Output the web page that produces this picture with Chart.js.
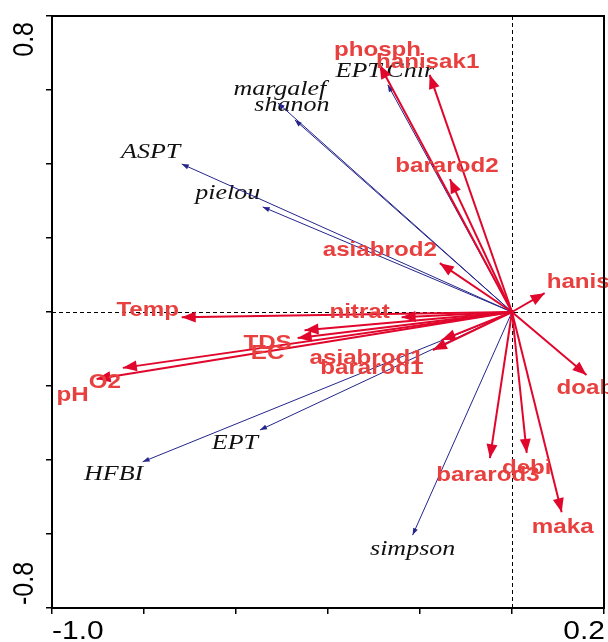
<!DOCTYPE html>
<html><head><meta charset="utf-8">
<script src="https://cdn.jsdelivr.net/npm/chart.js@4/dist/chart.umd.min.js"></script>
<style>html,body{margin:0;padding:0;background:#fff;overflow:hidden}#wrap{width:608px;height:642px}</style>
</head><body><div id="wrap"><canvas id="c" width="608" height="642"></canvas></div>
<script>
// Environmental / site vectors (red)
const envNames = ['phosph','hanisak1','bararod2','asiabrod2','hanis','doab','Temp','pH','O2','nitrat','TDS','EC','asiabrod1','bararod1','bararod3','debi','maka'];
const envX = [-0.288,-0.179,-0.135,-0.157,0.071,0.162,-0.718,-0.903,-0.846,-0.240,-0.451,-0.466,-0.153,-0.172,-0.048,0.032,0.108];
const envY = [0.668,0.641,0.359,0.132,0.051,-0.170,-0.014,-0.181,-0.151,-0.014,-0.049,-0.070,-0.076,-0.103,-0.395,-0.381,-0.541];
// Biotic index vectors (blue)
const idxNames = ['EPT.Chir','margalef','shanon','ASPT','pielou','HFBI','EPT','simpson'];
const idxX = [-0.270,-0.509,-0.472,-0.718,-0.542,-0.803,-0.548,-0.216];
const idxY = [0.614,0.565,0.519,0.400,0.284,-0.405,-0.319,-0.603];
// Axis tick labels shown
const xTickValues = [-1.0, 0.2];
const xTickLabels = ['-1.0','0.2'];
const yTickValues = [-0.8, 0.8];
const yTickLabels = ['-0.8','0.8'];

// ---- styling / label placement (pixel offsets from arrow tip) ----
const RED_LINE = '#e0062c', RED_TEXT = '#e8403f', BLUE_LINE = '#24248c';
const envLabelOffsets = {
  'phosph':[-2,-15,'center'],'hanisak1':[-2,-13,'center'],'bararod2':[-3,-13,'center'],
  'asiabrod2':[-60,-13,'center'],'hanis':[2,-11,'left'],'doab':[-30,13,'left'],
  'Temp':[-34,-7,'center'],'pH':[-24,16,'center'],'O2':[-18,14,'center'],
  'nitrat':[-42,-5,'center'],'TDS':[-37,13,'center'],'EC':[-30,15,'center'],
  'asiabrod1':[-75,18,'center'],'bararod1':[-61,18,'center'],'bararod3':[-2,17,'center'],
  'debi':[0,15,'center'],'maka':[1,15,'center']
};
const idxLabelOffsets = {
  'EPT.Chir':[-3,-13],'margalef':[2,-13],'shanon':[-3,-14],'ASPT':[-31,-11],
  'pielou':[-35,-13],'HFBI':[-29,13],'EPT':[-25,14],'simpson':[0,15]
};

function stretchedText(ctx, txt, x, y, font, color, align, sx, rot) {
  ctx.save();
  ctx.translate(x, y);
  ctx.scale(sx, 1);
  if (rot) ctx.rotate(rot);
  ctx.font = font;
  ctx.fillStyle = color;
  ctx.textAlign = align;
  ctx.textBaseline = rot !== undefined && rot !== 0 ? 'alphabetic' : 'middle';
  ctx.fillText(txt, 0, 0);
  ctx.restore();
}
function arrowHead(ctx, x0, y0, x1, y1, L, W, color) {
  const dx = x1 - x0, dy = y1 - y0, d = Math.hypot(dx, dy) || 1;
  const ux = dx / d, uy = dy / d, nx = -uy, ny = ux;
  ctx.save();
  ctx.fillStyle = color;
  ctx.beginPath();
  ctx.moveTo(x1, y1);
  ctx.lineTo(x1 - L * ux + W * nx, y1 - L * uy + W * ny);
  ctx.lineTo(x1 - L * ux - W * nx, y1 - L * uy - W * ny);
  ctx.closePath();
  ctx.fill();
  ctx.restore();
}

const datasets = [];
envNames.forEach((n, i) => datasets.push({
  label: n, kind: 'env', idx: i, order: 0,
  data: [{x: 0, y: 0}, {x: envX[i], y: envY[i]}],
  showLine: true, borderColor: RED_LINE, borderWidth: 2, pointRadius: 0, fill: false
}));
idxNames.forEach((n, i) => datasets.push({
  label: n, kind: 'idx', idx: i, order: 1,
  data: [{x: 0, y: 0}, {x: idxX[i], y: idxY[i]}],
  showLine: true, borderColor: BLUE_LINE, borderWidth: 1, pointRadius: 0, fill: false
}));

const biplot = {
  id: 'biplot',
  beforeDatasetsDraw(chart) {
    const {ctx, chartArea: a, scales: {x, y}} = chart;
    ctx.save();
    ctx.strokeStyle = '#000'; ctx.lineWidth = 1; ctx.setLineDash([4, 3]);
    const px = Math.round(x.getPixelForValue(0)) + 0.5, py = Math.round(y.getPixelForValue(0)) + 0.5;
    ctx.beginPath(); ctx.moveTo(px, a.top); ctx.lineTo(px, a.bottom); ctx.stroke();
    ctx.beginPath(); ctx.moveTo(a.left, py); ctx.lineTo(a.right, py); ctx.stroke();
    ctx.restore();
  },
  afterDatasetDraw(chart, args) {
    const ds = chart.data.datasets[args.index];
    const {ctx, scales: {x, y}} = chart;
    const x0 = x.getPixelForValue(0), y0 = y.getPixelForValue(0);
    if (ds.kind === 'env') {
      const x1 = x.getPixelForValue(envX[ds.idx]), y1 = y.getPixelForValue(envY[ds.idx]);
      arrowHead(ctx, x0, y0, x1, y1, 14, 5.5, RED_LINE);
    } else {
      const x1 = x.getPixelForValue(idxX[ds.idx]), y1 = y.getPixelForValue(idxY[ds.idx]);
      arrowHead(ctx, x0, y0, x1, y1, 7, 2.5, BLUE_LINE);
      const o = idxLabelOffsets[ds.label];
      stretchedText(ctx, ds.label, x1 + o[0], y1 + o[1], 'italic 20px "Liberation Serif", "Times New Roman", serif', '#111', 'center', 1.3, 0);
    }
  },
  afterDatasetsDraw(chart) {
    const {ctx, scales: {x, y}} = chart;
    envNames.forEach((n, i) => {
      const x1 = x.getPixelForValue(envX[i]), y1 = y.getPixelForValue(envY[i]);
      const o = envLabelOffsets[n];
      stretchedText(ctx, n, x1 + o[0], y1 + o[1], 'bold 21px "Liberation Sans", Arial, sans-serif', RED_TEXT, o[2], 1.15, 0);
    });
  },
  afterDraw(chart) {
    const {ctx, chartArea: a, scales: {x, y}} = chart;
    ctx.save();
    ctx.strokeStyle = '#000'; ctx.lineWidth = 2;
    ctx.strokeRect(a.left, a.top, a.right - a.left, a.bottom - a.top);
    ctx.restore();
    const tf = '25px "Liberation Sans", Arial, sans-serif';
    // x tick labels
    xTickValues.forEach((v, i) => {
      const px = x.getPixelForValue(v);
      const align = i === 0 ? 'left' : 'right';
      ctx.save();
      ctx.translate(px + (i === 0 ? 0 : 1), a.bottom + 31);
      ctx.scale(1.2, 1);
      ctx.font = tf; ctx.fillStyle = '#000'; ctx.textAlign = align; ctx.textBaseline = 'alphabetic';
      ctx.fillText(xTickLabels[i], 0, 0);
      ctx.restore();
    });
    // y tick labels, rotated
    yTickValues.forEach((v, i) => {
      const py = y.getPixelForValue(v);
      ctx.save();
      ctx.translate(33, v < 0 ? py - 3 : py + 6);
      ctx.scale(1.2, 1);
      ctx.rotate(-Math.PI / 2);
      ctx.font = tf; ctx.fillStyle = '#000';
      ctx.textAlign = v < 0 ? 'left' : 'right'; ctx.textBaseline = 'alphabetic';
      ctx.fillText(yTickLabels[i], 0, 0);
      ctx.restore();
    });
  }
};

new Chart(document.getElementById('c'), {
  type: 'scatter',
  data: {datasets},
  options: {
    responsive: false, animation: false, devicePixelRatio: 1,
    layout: {padding: {left: 0, right: 4, top: 16, bottom: 0}},
    plugins: {legend: {display: false}, tooltip: {enabled: false}},
    elements: {line: {tension: 0}},
    scales: {
      x: {
        type: 'linear', min: -1.0, max: 0.2,
        ticks: {stepSize: 0.2, display: false},
        grid: {drawOnChartArea: false, drawTicks: true, tickLength: 6, color: '#000', lineWidth: 1.5},
        border: {display: true, color: '#000', width: 2},
        afterFit: s => { s.height = 34; }
      },
      y: {
        type: 'linear', min: -0.8, max: 0.8,
        ticks: {stepSize: 0.2, display: false},
        grid: {drawOnChartArea: false, drawTicks: true, tickLength: 6, color: '#000', lineWidth: 1.5},
        border: {display: true, color: '#000', width: 2},
        afterFit: s => { s.width = 52; }
      }
    }
  },
  plugins: [biplot]
});
</script>
</body></html>
